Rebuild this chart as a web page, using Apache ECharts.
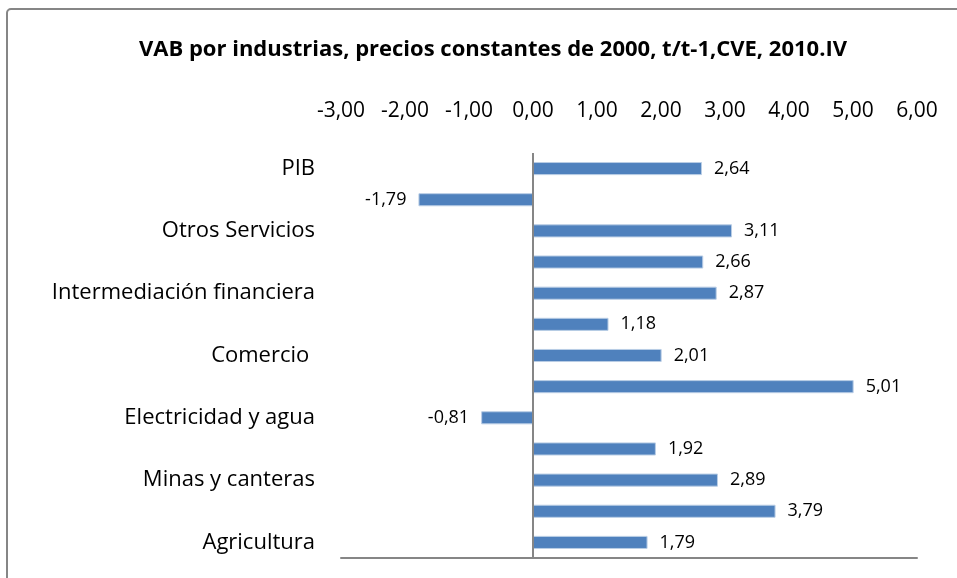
<!DOCTYPE html>
<html>
<head>
<meta charset="utf-8">
<script src="https://cdn.jsdelivr.net/npm/echarts@6/dist/echarts.min.js"></script>
<style>
html, body { margin: 0; padding: 0; background: #fff; }
#chart { width: 957px; height: 578px; }
</style>
</head>
<body>
<div id="chart"></div>
<script>
// categories from bottom to top; unlabeled rows have no visible name
const categories = ['Agricultura', '', 'Minas y canteras', '', 'Electricidad y agua', '',
    'Comercio ', '', 'Intermediación financiera', '', 'Otros Servicios', '', 'PIB'];
const values = [1.79, 3.79, 2.89, 1.92, -0.81, 5.01, 2.01, 1.18, 2.87, 2.66, 3.11, -1.79, 2.64];
const axisMin = -3;
const axisMax = 6;
const axisStep = 1;

const fmt = v => v.toFixed(2).replace('.', ',');
const font = '"Open Sans", "Noto Sans", sans-serif';

let myChart = echarts.init(document.getElementById('chart'));
myChart.setOption({
    backgroundColor: '#fff',
    animation: false,
    title: {
        text: 'VAB por industrias, precios constantes de 2000, t/t-1,CVE, 2010.IV',
        left: 488,
        textAlign: 'center',
        top: 34,
        textStyle: { fontFamily: font, fontSize: 22, fontWeight: 'bold', color: '#000' }
    },
    graphic: [{
        type: 'rect',
        shape: { x: 7, y: 9, width: 970, height: 600, r: 4 },
        style: { fill: 'none', stroke: '#868686', lineWidth: 2 },
        silent: true
    }],
    grid: { left: 341, right: 40, top: 153, bottom: 20 },
    xAxis: [{
        type: 'value',
        position: 'top',
        min: axisMin,
        max: axisMax,
        interval: axisStep,
        axisLine: { show: false },
        axisTick: { show: false },
        splitLine: { show: false },
        axisLabel: {
            margin: 31,
            fontFamily: font,
            fontSize: 21,
            color: '#000',
            formatter: fmt
        }
    }, {
        type: 'value',
        position: 'bottom',
        min: axisMin,
        max: axisMax,
        axisLine: { show: true, onZero: false, lineStyle: { color: '#868686', width: 2 } },
        axisTick: { show: false },
        axisLabel: { show: false },
        splitLine: { show: false }
    }],
    yAxis: {
        type: 'category',
        data: categories,
        axisLine: { show: false },
        axisTick: { show: false },
        axisLabel: {
            interval: 0,
            margin: 26,
            fontFamily: font,
            fontSize: 22,
            color: '#000'
        }
    },
    series: [{
        type: 'bar',
        xAxisIndex: 0,
        barWidth: '42%',
        data: values.map(v => ({
            value: v,
            label: { position: v < 0 ? 'left' : 'right' }
        })),
        itemStyle: { color: '#4F81BD', borderColor: '#b9cde5', borderWidth: 1 },
        label: {
            show: true,
            distance: 12,
            fontFamily: font,
            fontSize: 18,
            color: '#000',
            formatter: p => fmt(p.value)
        },
        markLine: {
            silent: true,
            symbol: 'none',
            label: { show: false },
            lineStyle: { color: '#868686', width: 2, type: 'solid' },
            data: [{ xAxis: 0 }]
        }
    }]
});
</script>
</body>
</html>
